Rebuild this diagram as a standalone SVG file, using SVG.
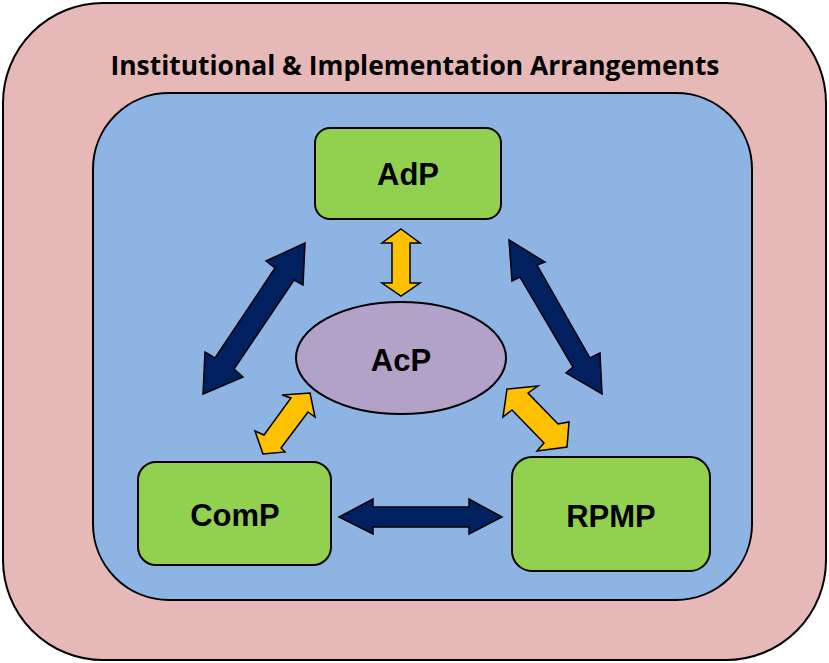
<svg xmlns="http://www.w3.org/2000/svg" width="829" height="663" viewBox="0 0 829 663">
<style>
.frame{stroke:#000;stroke-width:2}
.node{fill:#92D050;stroke:#000;stroke-width:2}
.lbl{font-family:"Liberation Sans",Arial,sans-serif;font-weight:bold;font-size:31px;fill:#000;text-anchor:middle}
.navy{fill:#002060;stroke:#000;stroke-width:1.5;stroke-linejoin:miter}
.gold{fill:#FFC000;stroke:#000;stroke-width:1.5;stroke-linejoin:miter}
</style>
<rect id="outer" class="frame" x="3" y="3" width="823" height="657" rx="100" ry="100" fill="#E6B9B8"/>
<text x="415" y="75" font-family="'Open Sans','Liberation Sans',sans-serif" font-weight="bold" font-size="26" text-anchor="middle" textLength="609" lengthAdjust="spacingAndGlyphs">Institutional &amp; Implementation Arrangements</text>
<rect id="inner" class="frame" x="93" y="93" width="659" height="507" rx="76" ry="76" fill="#8EB4E3"/>
<g id="connectors">
<polygon class="navy" points="305,243 303,285 294,280 234,369 243,377 203,394 205,352 215,358 275,268 266,261"/>
<polygon class="navy" points="509,240 545,262 537,265 590,358 600,353 602,394 566,373 573,367 520,277 512,281"/>
<polygon class="navy" points="339,517 373,499 373,507 469,507 469,499 502,517 469,534 469,527 373,527 373,534"/>
<polygon class="gold" points="401,229 420,243 410,243 410,283 420,283 401,296 382,283 392,283 392,243 382,243"/>
<polygon class="gold" points="310,393 315,417 308,412 281,448 285,452 263,454 255,431 264,435 291,398 282,395"/>
<polygon class="gold" points="507,389 538,386 528,393 558,424 569,422 567,447 537,451 544,443 512,410 503,417"/>
</g>
<g id="AdP">
<rect class="node" x="315" y="128" width="186" height="91" rx="15" ry="15"/>
<text class="lbl" x="408" y="185">AdP</text>
</g>
<g id="AcP">
<ellipse cx="401" cy="358" rx="105" ry="56" fill="#B3A2C7" stroke="#000" stroke-width="2"/>
<text class="lbl" x="401" y="371">AcP</text>
</g>
<g id="ComP">
<rect class="node" x="138" y="462" width="193" height="103" rx="18" ry="18"/>
<text class="lbl" x="235" y="526">ComP</text>
</g>
<g id="RPMP">
<rect class="node" x="512" y="457" width="198" height="114" rx="20" ry="20"/>
<text class="lbl" x="611" y="527">RPMP</text>
</g>
</svg>
